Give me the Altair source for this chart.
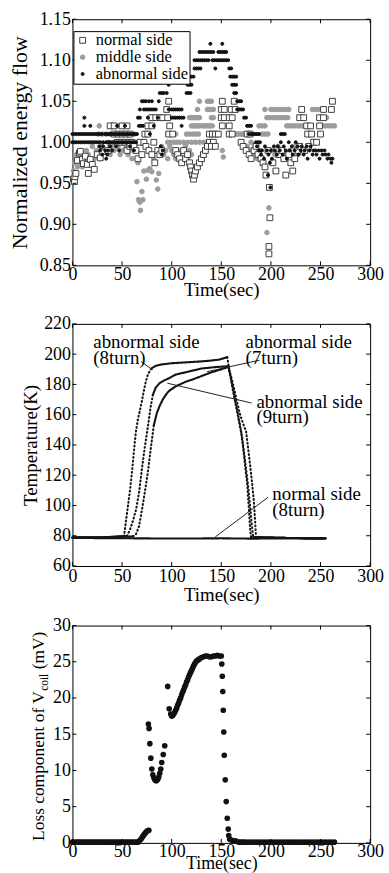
import altair as alt
import pandas as pd

FONT = "Liberation Serif"

# ---------------------------------------------------------------
# Top panel: normalized energy flow.  Most readings sit on the
# 0.01 quantisation levels, so they are listed as level -> times (s);
# the remaining readings are listed as (time, value) pairs.
# ---------------------------------------------------------------
abn_rows = {
    1.12: [139, 151],
    1.11: [128, 130, 132, 134, 136, 138, 140, 142, 147, 149, 151, 153, 155],
    1.10: [123, 125, 127, 129, 131, 133, 135, 137, 141, 143, 145, 147, 149, 151, 153, 155, 157],
    1.09: [123, 125, 127, 129, 144, 158, 160],
    1.08: [118, 120, 122, 159, 161, 163, 165],
    1.07: [97, 116, 118, 120, 161, 163, 165],
    1.06: [88, 90, 92, 95, 115, 117, 119, 163, 165],
    1.05: [70, 72, 74, 77, 80, 87, 166, 168, 170],
    1.04: [68, 72, 74, 76, 78, 80, 82, 84, 97, 100, 102, 104, 106, 108, 110, 166, 168, 170, 172],
    1.03: [12, 66, 68, 76, 86, 100, 102, 104, 106, 108, 110, 112, 173, 175],
    1.02: [12, 18, 45, 53, 67, 69, 71, 82, 110, 176, 178, 180],
    1.01: [0, 2, 4, 6, 8, 10, 12, 14, 16, 18, 20, 22, 24, 26, 28, 30, 33, 35, 37, 39, 41, 43,
           45, 47, 49, 51, 53, 55, 57, 59, 61, 63, 65, 78, 178, 180, 182, 184, 186, 188, 210, 212, 214],
    1.00: [0, 2, 4, 6, 8, 10, 12, 14, 16, 18, 20, 22, 24, 26, 28, 31, 34, 36, 38, 40, 42, 44,
           46, 48, 50, 52, 54, 56, 58, 60, 62, 64, 185, 187, 189],
}
abn_scatter = [
    (27, 0.995), (28, 0.99), (30, 0.985), (31, 0.995), (33, 0.99), (34, 0.98), (35, 0.985),
    (36, 0.99), (38, 0.995), (40, 0.99), (44, 0.995), (47, 0.99), (58, 0.995), (62, 0.99),
    (89, 0.995), (90, 0.985), (91, 0.99),
    (186, 0.995), (188, 0.99), (190, 0.985), (191, 0.99), (193, 0.98), (194, 0.995), (196, 0.99),
    (197, 0.96), (197.5, 0.985), (199, 0.975), (199.5, 0.945), (200, 0.99), (201, 0.98),
    (203, 0.995), (204, 0.99), (206, 0.985), (207, 0.995), (209, 0.99), (210, 1.0), (212, 0.985),
    (213, 0.995), (215, 0.99), (216, 0.98), (218, 1.0), (219, 0.99), (221, 0.995), (222, 0.985),
    (224, 0.99), (225, 1.0), (227, 0.995), (228, 0.985), (230, 0.99), (231, 0.995), (233, 0.985),
    (234, 0.99), (236, 0.995), (237, 0.98), (239, 0.99), (240, 0.995), (242, 0.985), (243, 0.99),
    (245, 0.99), (246, 0.985), (248, 0.99), (249, 0.98), (251, 0.99), (252, 0.985), (254, 0.99),
    (255, 0.985), (257, 0.98), (258, 0.985), (260, 0.98), (261, 0.975), (262, 0.98),
]

mid_rows = {
    1.05: [128, 136, 138, 140],
    1.04: [126, 136, 138, 140, 142, 194, 200, 203, 206, 209, 212, 215, 218, 242, 245, 248],
    1.03: [118, 120, 122, 124, 126, 128, 140, 142, 196, 199, 202, 205, 208, 211, 214, 217,
           229, 232, 250, 253, 256],
    1.02: [27, 47, 52, 120, 122, 124, 126, 128, 131, 133, 135, 137, 139, 141, 188, 191, 194,
           216, 219, 222, 225, 228, 231, 234, 237, 240, 252, 255, 258, 261, 264],
    1.01: [26, 30, 34, 38, 42, 46, 50, 54, 58, 62, 96, 100, 104, 115, 118, 121, 124, 127,
           158, 160, 162, 164, 166, 168, 170, 172, 174, 191, 194, 197, 239, 242],
    1.00: [96, 99, 102, 105, 108, 112, 116, 120, 124, 128, 132, 136, 180],
}
mid_scatter = [
    (1, 0.965), (2, 0.975), (3, 0.96), (4, 0.985), (5, 0.97), (6, 0.98), (7, 0.975), (8, 0.99),
    (9, 0.985), (10, 0.97), (12, 0.98), (14, 0.99), (16, 0.985), (18, 0.975), (20, 0.995),
    (22, 0.98), (24, 0.99), (26, 0.985), (28, 0.98), (29, 0.995), (32, 0.995), (34, 0.99),
    (36, 1.0), (38, 0.985), (40, 0.995), (42, 0.99), (44, 1.0), (46, 0.995), (48, 0.985),
    (50, 0.99), (52, 1.0), (54, 0.995), (56, 0.985), (58, 0.99), (60, 0.98), (63, 0.99),
    (65, 0.952), (66, 0.975), (66.5, 0.93), (68, 0.927), (68.5, 0.917), (70, 0.94), (71, 0.93),
    (72, 0.965), (74.5, 0.955), (76, 0.966), (78, 0.968), (80, 0.964), (82, 0.98), (84.5, 0.954),
    (86, 0.943), (87, 0.962), (88, 0.99), (90, 0.995), (92, 0.985), (94, 0.99), (96, 0.98),
    (98, 0.995), (100, 0.99), (102, 0.985), (104, 0.98), (106, 0.99), (108, 0.985), (110, 0.975),
    (112, 0.99), (114, 0.995), (116, 0.98), (118, 0.99), (120, 0.985), (151, 0.99), (152, 0.982),
    (176, 0.995), (178, 0.99), (181, 0.985), (184, 0.995), (186, 0.98), (189, 0.99), (196, 0.89),
    (198, 0.92), (201, 0.99), (204, 0.985), (207, 0.995), (213, 0.98), (219, 0.99), (223, 0.995),
    (227, 0.985),
]

norm_rows = {
    1.05: [97, 151, 163, 262],
    1.04: [95, 150, 153, 160, 164, 231, 253, 261],
    1.03: [80, 84, 88, 91, 96, 150, 153, 158, 161, 229, 233, 249, 253],
    1.02: [38, 42, 50, 55, 76, 80, 98, 151, 158, 236, 240, 249],
    1.01: [42, 46, 50, 54, 58, 73, 76, 97, 101, 138, 141, 144, 147, 158, 161, 176, 179, 237, 241, 250],
    1.00: [45, 49, 53, 57, 60, 68, 72, 82, 138, 142, 170, 243, 246],
}
norm_scatter = [
    (1, 0.955), (2, 0.952), (2.5, 0.958), (3.5, 0.962), (5, 0.978), (7, 0.987), (8, 0.989),
    (10, 0.979), (11, 0.974), (13, 0.983), (15, 0.973), (16, 0.962), (18, 0.979), (20, 0.973),
    (22, 0.967), (25, 0.985), (28, 0.981), (30, 0.989), (33, 0.995), (36, 0.99), (55, 0.99),
    (58, 0.995), (62, 0.995), (64, 0.99), (66, 0.98), (70, 0.985), (74, 0.995), (77, 0.99),
    (80, 0.985), (83, 0.975), (86, 0.99), (88, 0.985), (90, 0.99), (104, 0.99), (106, 0.985),
    (108, 0.98), (110, 0.975), (112, 0.99), (114, 0.98), (116, 0.985), (118, 0.975), (119, 0.97),
    (120, 0.965), (121, 0.96), (122, 0.955), (123, 0.96), (124, 0.965), (126, 0.97), (128, 0.975),
    (130, 0.98), (132, 0.985), (134, 0.99), (136, 0.995), (140, 0.995), (144, 0.995), (172, 0.995),
    (175, 0.99), (178, 0.985), (180, 0.98), (183, 0.99), (185, 0.995), (187, 0.985), (190, 0.98),
    (192, 0.975), (194, 0.97), (195, 0.96), (197, 0.99), (198.5, 0.945), (199, 0.908),
    (198, 0.873), (198, 0.864), (202, 0.975), (205, 0.965), (208, 0.985), (211, 0.99), (213, 0.98),
    (215, 0.96), (218, 0.985), (220, 0.975), (222, 0.965), (224, 0.98), (227, 0.99), (229, 0.995),
    (234, 0.99), (238, 0.995),
]

sides = ["normal side", "middle side", "abnormal side"]

# ---------------------------------------------------------------
# Middle panel: temperature traces.  Each trace is split into the
# slowly varying parts (drawn solid) and the fast rise/fall parts
# (drawn dotted, like the sparse samples there).
# ---------------------------------------------------------------
temp_traces = {
    "normal side (8turn)": [
        ("solid", [0, 30, 60, 90, 120, 150, 180, 210, 240, 255],
                  [78.6, 78.4, 78.3, 78.2, 78.2, 78.3, 78.1, 78.2, 78.1, 78.1]),
    ],
    "abnormal side (8turn)": [
        ("solid", [0, 30, 52], [78.8, 78.9, 79.6]),
        ("dot", [52, 54, 56, 58, 60, 62, 64, 66, 68, 70, 72, 74, 76, 78, 80],
                [79.6, 90, 100, 110, 122, 136, 149, 157, 163, 169, 176, 182, 186.5, 189, 190.8]),
        ("solid", [80, 84, 90, 100, 110, 120, 130, 140, 148, 153, 156],
                  [190.8, 192.3, 193.2, 194, 194.4, 194.8, 195.2, 195.8, 196.4, 197.4, 198]),
        ("dot", [156, 158, 161, 164, 167, 170, 172, 174, 176, 178, 179, 180],
                [198, 190, 180, 170, 160, 149, 138, 126, 115, 96, 85, 79]),
        ("solid", [180, 220, 255], [79, 78.5, 78.4]),
    ],
    "abnormal side (9turn)": [
        ("solid", [0, 30, 55], [78.9, 79, 79.8]),
        ("dot", [55, 58, 61, 64, 67, 70, 73, 76, 79, 81],
                [79.8, 84, 90, 97, 108, 124, 139, 152, 166, 173]),
        ("solid", [81, 84, 88, 92, 97, 104, 114, 130, 145, 157],
                  [173, 178, 181, 182.5, 184, 186.5, 188, 190.5, 191.5, 192]),
        ("dot", [157, 160, 163, 166, 169, 172, 175, 177, 179, 181, 182.5, 183.5, 184.3, 185],
                [192, 185, 177, 168, 160, 154, 149, 138, 127, 115, 105, 96, 87, 79]),
        ("solid", [185, 220, 255], [79, 78.5, 78.3]),
    ],
    "abnormal side (7turn)": [
        ("solid", [0, 30, 61], [78.8, 78.9, 79.6]),
        ("dot", [61, 64, 67, 70, 73, 76, 79, 82], [79.6, 81, 86, 97, 109, 122, 138, 153]),
        ("solid", [82, 85, 88, 91, 94, 97, 100, 105, 110, 115, 120, 130, 140, 150, 157],
                  [153, 161, 166, 170, 173, 175.5, 177, 179, 180.5, 182, 183, 185.5, 188, 190, 191.5]),
        ("dot", [157, 159.5, 162, 165, 168, 171, 173, 175, 177, 179, 180.5, 182, 183],
                [191.5, 184, 175, 165, 155, 145, 135, 124, 113, 100, 89, 80, 79]),
        ("solid", [183, 220, 255], [79, 78.5, 78.4]),
    ],
}

# trace labels with their leader lines (time, temperature)
label_text = ["abnormal side\n(8turn)", "abnormal side\n(7turn)",
              "abnormal side\n(9turn)", "normal side\n(8turn)"]
label_t = [21, 174.5, 185.4, 201.4]
label_T = [203.8, 203.8, 164.5, 103.3]
leader_t1 = [69.1, 188.4, 180.5, 197.1]
leader_T1 = [195.1, 196.0, 167.7, 105.4]
leader_t2 = [80.8, 135.6, 95.7, 143.9]
leader_T2 = [189.6, 188.4, 180.8, 79.2]

# ---------------------------------------------------------------
# Bottom panel: loss component of the coil voltage (mV)
# ---------------------------------------------------------------
loss_t = [0, 2, 4, 6, 8, 10, 12, 14, 16, 18, 20, 22, 24, 26, 28, 30, 32, 34, 36, 38, 40, 42, 44,
          46, 48, 50, 52, 54, 56, 58, 60, 62, 64, 66,
          67.5, 69, 70, 71, 72, 73, 74, 75, 76, 77,
          76.5, 77.2, 78, 79, 80, 81, 82, 83, 84, 85, 86, 87, 88, 89, 90, 91.5, 93,
          96, 97.5, 99,
          100, 101, 102, 103, 104, 105, 106, 107, 108, 109, 110, 111, 112, 113, 114, 115, 116,
          117, 118, 119, 120, 121, 122, 123, 124, 125, 126, 127, 128, 130, 132, 134, 136, 138,
          140, 142, 144, 146, 148, 150,
          150.5, 151, 151.5, 152, 152.5, 153, 154, 155, 156, 157, 157.5, 158.5, 160, 162, 164,
          166, 168, 170, 172,
          174, 177, 180, 183, 186, 189, 192, 195, 198, 201, 204, 207, 210, 213, 216, 219, 222,
          225, 228, 231, 234, 237, 240, 243, 246, 249, 252, 255, 258, 261, 264]
loss_mv = [0.1, 0.1, 0.1, 0.1, 0.1, 0.1, 0.1, 0.1, 0.1, 0.1, 0.1, 0.1, 0.1, 0.1, 0.1, 0.1, 0.1,
           0.1, 0.1, 0.1, 0.1, 0.1, 0.1, 0.1, 0.1, 0.1, 0.1, 0.1, 0.1, 0.1, 0.1, 0.1, 0.1, 0.1,
           0.3, 0.5, 0.7, 0.9, 1.1, 1.3, 1.45, 1.6, 1.7, 1.75,
           16.4, 15.8, 13.7, 11.7, 10.2, 9.4, 9.0, 8.7, 8.6, 8.6, 8.8, 9.1, 9.6, 10.2, 11.1, 12.2, 13.4,
           21.6, 18.5, 17.8,
           17.5, 17.6, 17.8, 18.0, 18.3, 18.6, 19.0, 19.3, 19.7, 20.0, 20.4, 20.8, 21.1, 21.5, 21.8,
           22.2, 22.5, 22.9, 23.2, 23.5, 23.8, 24.1, 24.4, 24.7, 24.9, 25.1, 25.2, 25.3, 25.4, 25.6,
           25.7, 25.8, 25.8, 25.7, 25.7, 25.8, 25.8, 25.9, 25.8, 25.8,
           24.7, 23.0, 20.9, 18.3, 15.3, 12.1, 8.7, 5.7, 3.4, 1.9, 1.0, 0.5, 0.4, 0.3, 0.3,
           0.2, 0.1, 0.1, 0.1,
           0.1, 0.1, 0.1, 0.1, 0.1, 0.1, 0.1, 0.1, 0.1, 0.1, 0.1, 0.1, 0.1, 0.1, 0.1, 0.1, 0.1,
           0.1, 0.1, 0.1, 0.1, 0.1, 0.1, 0.1, 0.1, 0.1, 0.1, 0.1, 0.1, 0.1, 0.1]

time_ticks = [0, 50, 100, 150, 200, 250, 300]
flow_ticks = [0.85, 0.90, 0.95, 1.00, 1.05, 1.10, 1.15]
temp_ticks = [60, 80, 100, 120, 140, 160, 180, 200, 220]
loss_ticks = [0, 5, 10, 15, 20, 25, 30]


def rows_frame(rows, scatter, side):
    recs = [(t, lvl) for lvl, ts in rows.items() for t in ts] + list(scatter)
    return pd.DataFrame(recs, columns=["t", "v"]).assign(side=side)


def axis(vals, title, tsize=19, tpad=0, fmt=None, lpad=2):
    kw = dict(values=vals, title=title, labelFont=FONT, labelFontSize=18, labelColor="black",
              labelPadding=lpad, labelOverlap=False, labelFlush=False, ticks=False, tickSize=0,
              domain=False, grid=False, titleFont=FONT, titleFontSize=tsize,
              titleFontWeight="normal", titleColor="black", titlePadding=tpad)
    if fmt:
        kw["format"] = fmt
    return alt.Axis(**kw)


def inner_ticks(xvals, yvals, xsc, ysc, xax, yax, W, H, L=4):
    # short tick marks pointing into the frame on all four sides
    tx = alt.Chart(pd.DataFrame({"tick": xvals}))
    ty = alt.Chart(pd.DataFrame({"tick": yvals}))
    xe = alt.X("tick:Q", scale=xsc, axis=xax)
    ye = alt.Y("tick:Q", scale=ysc, axis=yax)
    return [
        tx.mark_rule(color="black", strokeWidth=1).encode(x=xe, y=alt.value(H), y2=alt.value(H - L)),
        tx.mark_rule(color="black", strokeWidth=1).encode(x=xe, y=alt.value(0), y2=alt.value(L)),
        ty.mark_rule(color="black", strokeWidth=1).encode(y=ye, x=alt.value(0), x2=alt.value(L)),
        ty.mark_rule(color="black", strokeWidth=1).encode(y=ye, x=alt.value(W), x2=alt.value(W - L)),
    ]


# ----- top panel -----
W1, H1 = 300, 248
xs1 = alt.Scale(domain=[0, 300], nice=False, zero=False)
ys1 = alt.Scale(domain=[0.85, 1.15], nice=False, zero=False)
xax1 = axis(time_ticks, "Time(sec)", 19, -3, lpad=0)
yax1 = axis(flow_ticks, "Normalized energy flow", 22, 8, ".2f")
flow = pd.concat([
    rows_frame(mid_rows, mid_scatter, "middle side"),
    rows_frame(norm_rows, norm_scatter, "normal side"),
    rows_frame(abn_rows, abn_scatter, "abnormal side"),
], ignore_index=True)

leg = dict(orient="none", legendX=1, legendY=12, title=None, strokeColor="black",
           fillColor="white", padding=1, rowPadding=0, labelFont=FONT, labelFontSize=16.5,
           labelColor="black", labelOffset=5, symbolStrokeWidth=1)
points1 = alt.Chart(flow).mark_point(strokeWidth=1, opacity=1).encode(
    x=alt.X("t:Q", scale=xs1, axis=xax1),
    y=alt.Y("v:Q", scale=ys1, axis=yax1),
    shape=alt.Shape("side:N", scale=alt.Scale(domain=sides, range=["square", "circle", "circle"]),
                    legend=alt.Legend(**leg)),
    fill=alt.Fill("side:N", scale=alt.Scale(domain=sides, range=["white", "#9c9c9c", "#111111"]),
                  legend=alt.Legend(**leg)),
    stroke=alt.Stroke("side:N", scale=alt.Scale(domain=sides, range=["#404040", "#9c9c9c", "#111111"]),
                      legend=alt.Legend(**leg)),
    size=alt.Size("side:N", scale=alt.Scale(domain=sides, range=[34, 9, 15]),
                  legend=alt.Legend(**leg)),
)
panel1 = alt.layer(points1, *inner_ticks(time_ticks, flow_ticks, xs1, ys1, xax1, yax1, W1, H1)).properties(
    width=W1, height=H1)

# ----- middle panel -----
W2, H2 = 300, 244
xs2 = alt.Scale(domain=[0, 300], nice=False, zero=False)
ys2 = alt.Scale(domain=[60, 220], nice=False, zero=False)
xax2 = axis(time_ticks, "Time(sec)", 19, 0)
yax2 = axis(temp_ticks, "Temperature(K)", 19, 3)
recs = []
for name, segs in temp_traces.items():
    for k, (style, ts, Ts) in enumerate(segs):
        for i, (t, T) in enumerate(zip(ts, Ts)):
            recs.append(dict(seg=f"{name}-{k}", style=style, t=t, T=T, i=i))
temps = pd.DataFrame(recs)
lines2 = alt.Chart(temps).mark_line(color="#141414", strokeWidth=2.1, strokeCap="round").encode(
    x=alt.X("t:Q", scale=xs2, axis=xax2),
    y=alt.Y("T:Q", scale=ys2, axis=yax2),
    detail="seg:N",
    order="i:Q",
    strokeDash=alt.StrokeDash("style:N", scale=alt.Scale(domain=["solid", "dot"],
                                                           range=[[1, 0], [0.8, 3.0]]), legend=None),
)
labels = pd.DataFrame(dict(txt=label_text, t=label_t, T=label_T, t1=leader_t1, T1=leader_T1,
                           t2=leader_t2, T2=leader_T2))
leaders = alt.Chart(labels).mark_rule(color="#222222", strokeWidth=1).encode(
    x=alt.X("t1:Q", scale=xs2, axis=xax2), y=alt.Y("T1:Q", scale=ys2, axis=yax2),
    x2="t2:Q", y2="T2:Q")
texts = alt.Chart(labels).mark_text(align="left", baseline="alphabetic", font=FONT, fontSize=19,
                                     lineBreak="\n", lineHeight=15.5, color="black").encode(
    x=alt.X("t:Q", scale=xs2, axis=xax2), y=alt.Y("T:Q", scale=ys2, axis=yax2), text="txt:N")
panel2 = alt.layer(lines2, leaders, texts,
                   *inner_ticks(time_ticks, temp_ticks, xs2, ys2, xax2, yax2, W2, H2)).properties(
    width=W2, height=H2)

# ----- bottom panel -----
W3, H3 = 300, 219
xs3 = alt.Scale(domain=[0, 300], nice=False, zero=False)
ys3 = alt.Scale(domain=[0, 30], nice=False, zero=False)
xax3 = axis(time_ticks, "Time(sec)", 18, -6, lpad=0)
yax3 = axis(loss_ticks, None)
loss = pd.DataFrame({"t": loss_t, "mv": loss_mv})
dots3 = alt.Chart(loss).mark_circle(size=32, color="#111111", opacity=1).encode(
    x=alt.X("t:Q", scale=xs3, axis=xax3),
    y=alt.Y("mv:Q", scale=ys3, axis=yax3),
)
# y title with a subscript: three rotated text pieces
title_parts = [("Loss component of V", 17.5, -29, H3 - 2),
               ("coil", 11.5, -25, H3 - 2 - 151.2),
               ("(mV)", 17.5, -29, H3 - 2 - 151.2 - 17.3 - 4.4)]
title_layers = [
    alt.Chart(pd.DataFrame({"txt": [s]})).mark_text(
        angle=270, align="left", baseline="alphabetic", font=FONT, fontSize=fs, color="black"
    ).encode(text="txt:N", x=alt.value(xp), y=alt.value(yp))
    for s, fs, xp, yp in title_parts
]
panel3 = alt.layer(dots3, *title_layers,
                   *inner_ticks(time_ticks, loss_ticks, xs3, ys3, xax3, yax3, W3, H3)).properties(
    width=W3, height=H3)

chart = alt.vconcat(alt.vconcat(panel1, panel2, spacing=14), panel3, spacing=10).properties(
    padding={"left": 8, "top": 6, "right": 5, "bottom": 0},
    background="white",
).configure_view(stroke="black", strokeWidth=1)

chart.save("out.html", embed_options={"renderer": "svg", "actions": False})
